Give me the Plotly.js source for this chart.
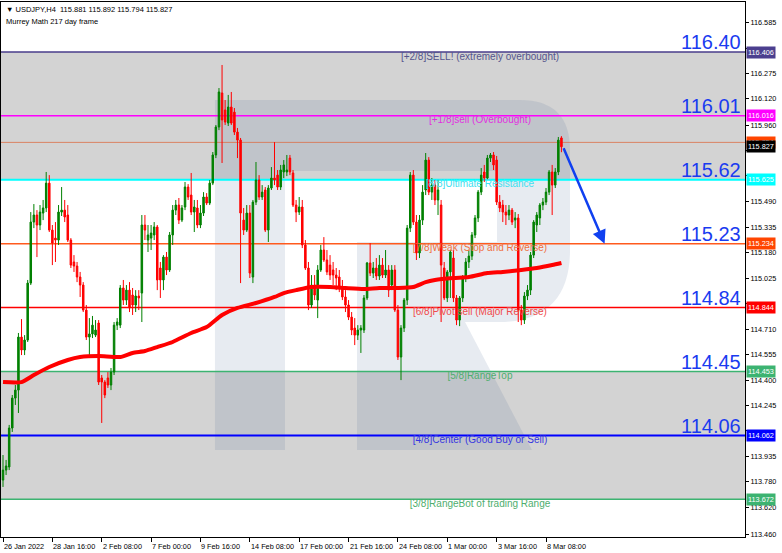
<!DOCTYPE html>
<html><head><meta charset="utf-8">
<script src="https://cdn.plot.ly/plotly-3.0.1.min.js"></script>
<style>html,body{margin:0;padding:0;background:#fff}#chart{width:782px;height:553px}</style>
</head><body><div id="chart"></div>
<script>
// ---- data (USDJPY H4) ----
const openP = [113.790,113.851,113.870,114.108,114.291,114.340,114.664,114.585,114.646,114.994,
115.367,115.410,115.349,115.422,115.453,115.605,115.318,115.269,115.257,115.428,
115.440,115.410,115.257,115.123,115.098,115.031,114.982,114.829,114.664,114.683,
114.676,114.750,114.414,114.389,114.414,114.371,114.450,114.737,114.737,114.964,
114.890,114.951,114.921,114.860,114.915,114.933,115.349,115.257,115.269,115.288,
115.337,115.086,115.013,115.153,115.074,115.288,115.440,115.471,115.379,115.459,
115.581,115.532,115.428,115.453,115.349,115.422,115.520,115.483,115.605,115.777,
115.948,116.156,116.052,115.972,116.070,116.039,115.917,115.868,115.379,115.318,
115.422,115.031,115.489,115.624,115.520,115.563,115.318,115.575,115.636,115.654,
115.581,115.673,115.673,115.758,115.667,115.471,115.428,115.459,115.227,115.086,
114.860,114.982,114.890,115.074,115.196,115.135,115.104,115.074,115.043,115.031,
114.970,114.909,114.860,114.786,114.719,114.676,114.707,114.707,114.903,115.117,
115.055,115.086,115.037,115.104,115.043,115.074,114.982,115.074,114.829,114.542,
114.719,114.890,115.330,115.654,115.367,115.178,115.379,115.563,115.746,115.550,
115.593,115.502,115.471,115.086,114.903,115.062,115.147,114.903,114.768,114.903,
115.025,115.123,115.159,115.288,115.392,115.550,115.673,115.636,115.758,115.777,
115.746,115.489,115.471,115.428,115.410,115.440,115.379,115.392,114.829,114.768,
114.915,114.951,115.165,115.349,115.392,115.471,115.489,115.550,115.673,115.593,
115.673,115.881];
const highP = [113.943,113.913,114.127,114.310,114.371,114.689,114.774,114.676,115.013,115.428,
115.477,115.440,115.471,115.502,115.673,115.654,115.349,115.367,115.471,115.581,
115.502,115.471,115.269,115.165,115.123,115.062,115.000,114.860,114.780,114.793,
114.768,114.768,114.432,114.401,114.450,114.475,114.756,114.780,114.982,115.013,
114.982,115.000,114.964,114.951,114.951,115.410,115.410,115.349,115.349,115.367,
115.349,115.123,115.165,115.184,115.306,115.471,115.502,115.514,115.471,115.612,
115.599,115.667,115.502,115.502,115.471,115.550,115.544,115.624,115.795,115.960,
116.186,116.327,116.113,116.144,116.162,116.064,115.942,115.881,115.453,115.471,
115.471,115.502,115.734,115.654,115.593,115.581,115.593,115.703,115.856,115.685,
115.716,115.746,115.777,115.777,115.685,115.502,115.520,115.502,115.257,115.123,
115.043,115.043,115.104,115.227,115.275,115.196,115.165,115.123,115.086,115.074,
115.013,114.951,114.890,114.817,114.780,114.737,114.737,114.921,115.123,115.239,
115.123,115.147,115.165,115.147,115.196,115.104,115.104,115.104,114.860,114.737,
114.903,115.349,115.673,115.685,115.410,115.410,115.593,115.789,115.764,115.636,
115.624,115.624,115.502,115.123,115.074,115.196,115.196,114.921,114.915,115.043,
115.147,115.196,115.306,115.410,115.563,115.697,115.716,115.777,115.789,115.795,
115.771,115.532,115.502,115.471,115.471,115.453,115.428,115.416,114.860,114.939,
114.982,115.184,115.379,115.428,115.483,115.514,115.575,115.685,115.716,115.697,
115.887,115.892];
const lowP = [113.748,113.821,113.851,114.084,114.249,114.200,114.554,114.554,114.634,114.982,
115.330,115.153,115.318,115.379,115.428,115.306,115.104,115.123,115.227,115.404,
115.367,115.245,115.086,115.062,115.000,114.909,114.817,114.646,114.536,114.658,
114.664,114.371,114.139,114.291,114.353,114.340,114.432,114.707,114.719,114.860,
114.860,114.817,114.799,114.817,114.829,114.756,115.257,115.184,115.196,115.257,
114.951,114.903,114.951,115.043,115.062,115.227,115.410,115.355,115.367,115.440,
115.502,115.410,115.306,115.330,115.330,115.404,115.471,115.471,115.593,115.758,
115.929,115.728,115.960,115.954,115.960,115.899,115.758,114.994,115.288,115.306,
115.025,114.994,115.471,115.502,115.502,115.306,115.245,115.563,115.593,115.563,
115.563,115.636,115.648,115.654,115.459,115.367,115.410,115.208,115.074,114.829,
114.842,114.890,114.780,115.062,115.123,115.043,115.013,114.982,114.951,114.939,
114.890,114.817,114.768,114.676,114.615,114.646,114.567,114.689,114.890,115.037,
115.025,115.013,115.013,115.025,115.025,114.909,114.951,114.817,114.524,114.401,
114.695,114.860,115.306,115.349,115.135,115.147,115.349,115.532,115.532,115.502,
115.471,115.410,114.756,114.890,114.878,114.903,114.878,114.737,114.731,114.878,
115.000,115.086,115.135,115.269,115.367,115.532,115.612,115.624,115.734,115.685,
115.471,115.428,115.367,115.349,115.379,115.349,115.330,114.756,114.737,114.744,
114.890,114.921,115.147,115.306,115.349,115.440,115.471,115.532,115.410,115.575,
115.654,115.794];
const closeP = [113.851,113.876,114.108,114.291,114.340,114.664,114.585,114.646,114.994,115.367,
115.410,115.349,115.428,115.453,115.605,115.318,115.239,115.257,115.428,115.440,
115.398,115.257,115.104,115.098,115.031,114.982,114.829,114.664,114.683,114.737,
114.707,114.389,114.389,114.310,114.371,114.450,114.737,114.756,114.964,114.890,
114.951,114.842,114.860,114.915,114.903,115.349,115.318,115.288,115.300,115.337,
115.013,115.013,115.153,115.074,115.288,115.440,115.471,115.379,115.453,115.581,
115.520,115.428,115.459,115.349,115.422,115.520,115.483,115.605,115.777,115.948,
116.162,115.991,115.978,116.070,115.972,115.917,115.868,115.422,115.318,115.422,
115.055,115.489,115.624,115.520,115.550,115.318,115.575,115.636,115.624,115.581,
115.685,115.716,115.685,115.673,115.471,115.428,115.459,115.227,115.086,114.860,
114.982,114.921,115.074,115.196,115.135,115.062,115.043,115.043,115.025,114.970,
114.909,114.860,114.786,114.707,114.676,114.707,114.719,114.903,115.117,115.055,
115.086,115.037,115.104,115.043,115.074,114.951,115.074,114.829,114.542,114.719,
114.890,115.330,115.654,115.367,115.178,115.379,115.550,115.746,115.550,115.593,
115.502,115.563,115.104,114.903,115.062,115.184,114.903,114.768,114.903,115.025,
115.123,115.159,115.288,115.392,115.550,115.654,115.636,115.758,115.777,115.716,
115.489,115.453,115.428,115.410,115.440,115.367,115.392,114.829,114.768,114.915,
114.951,115.165,115.367,115.410,115.471,115.489,115.550,115.673,115.593,115.673,
115.868,115.827];

// moving average read at sampled bars
const maIdx = [0,6,10,15,21,25,31,38,42,46,50,55,61,66,71,76,82,88,91,95,100,106,111,117,122,128,133,137,140,146,151,157,162,168,173,178,181];
const maVal = [114.389,114.389,114.432,114.481,114.524,114.542,114.548,114.542,114.567,114.579,114.603,114.634,114.689,114.725,114.799,114.842,114.872,114.909,114.933,114.951,114.970,114.970,114.964,114.958,114.964,114.964,114.970,115.000,115.013,115.025,115.031,115.055,115.062,115.074,115.086,115.104,115.117];

// time axis
const tickIdx = [0,16,32,48,64,80,96,112,128,144,160,176];
const tickText = ['26 Jan 2022','28 Jan 16:00','2 Feb 08:00','7 Feb 00:00','9 Feb 16:00','14 Feb 08:00','17 Feb 00:00','21 Feb 16:00','24 Feb 08:00','1 Mar 00:00','3 Mar 16:00','8 Mar 08:00'];

// price axis ticks (labels hidden behind level boxes are left blank)
const yTicks = [116.585,116.430,116.275,116.120,115.960,115.805,115.650,115.490,115.335,115.180,115.025,114.870,114.710,114.555,114.400,114.245,114.090,113.935,113.780,113.620,113.460];
const yTickHidden = [116.430,115.805,115.650,114.870,114.090];

// Murrey Math levels
const levelVals = [116.406,116.016,115.625,115.234,114.844,114.453,114.062,113.672];
const levelNames = ['[+2/8]SELL! (extremely overbought)','[+1/8]sell (Overbought)','[8/8]Ultimate Resistance','[7/8]Weak (Stop and Reverse)','[6/8]Pivot sell (Major Reverse)','[5/8]RangeTop','[4/8]Center (Good Buy or Sell)','[3/8]RangeBot of trading Range'];
const bigLabels = ['116.40','116.01','115.62','115.23','114.84','114.45','114.06'];
const askPrice = 115.854;

// ---- styles ----
const FONT = 'Liberation Sans, Arial, DejaVu Sans, sans-serif';
const lineColors = ['#483d8b','#ff00ff','#00ffff','#ff5a1e','#ff0000','#3cb371','#0000ff','#3cb371'];
const lineWidths = [1.5,1.5,2,1.5,1.5,1.5,2,1.5];
const textColors = ['#55558c','#e030e0','#40e0f0','#f07040','#f04a4a','#4fae6e','#3535e0','#4fae6e'];
const boxColors = ['#4b3f8f','#ff00ff','#00ffff','#ff4500','#ff0000','#3cb371','#0000ff','#3cb371'];

const N = closeP.length;
const last = N - 1;
const xIdx = closeP.map((_, i) => i);
const xRange = [-0.65, 240.5];
const yRange = [113.442, 116.712];
const labelX = 154.6;

// helpers for paper-positioned decoration (plot area 1..745 x 2..537 px)
const PX = p => (p - 1) / 744;
const PY = p => (537 - p) / 535;
function pathFrom(cmds) {
  return cmds.map(c => c[0] + c.slice(1).reduce((a, v, k, arr) => {
    if (k % 2 === 0) return a + (k ? ' ' : '') + PX(v).toFixed(4) + ',' + PY(arr[k + 1]).toFixed(4);
    return a;
  }, '')).join(' ') + ' Z';
}
const logoPath = pathFrom([
  ['M',215,100],['L',520,100],['Q',570,100,570,150],['L',570,250],['Q',570,318,505,322],
  ['L',465,322],['L',532,450],['L',357,450],['L',357,242],['L',497,242],['L',497,171],
  ['L',285,171],['L',285,450],['L',215,450]
]);

const traces = [];
// level text labels (behind candles)
levelVals.forEach((v, k) => {
  traces.push({type:'scatter', mode:'text', x:[labelX], y:[v], text:[levelNames[k]],
    textposition:'bottom center', textfont:{family:FONT, size:10, color:textColors[k]},
    hoverinfo:'skip', showlegend:false, cliponaxis:false});
});
traces.push({
  type:'candlestick', x:xIdx, open:openP, high:highP, low:lowP, close:closeP,
  increasing:{line:{color:'#008000', width:1}, fillcolor:'#008000'},
  decreasing:{line:{color:'#ff0000', width:1}, fillcolor:'#ff0000'},
  hoverinfo:'skip', showlegend:false
});
traces.push({type:'scatter', mode:'lines', x:maIdx, y:maVal,
  line:{color:'#ff0000', width:4, shape:'spline', smoothing:0.6}, hoverinfo:'skip', showlegend:false});

const shapes = [
  {type:'rect', xref:'paper', yref:'y', x0:0, x1:1, y0:levelVals[0], y1:levelVals[2], fillcolor:'#d3d3d3', line:{width:0}, layer:'below'},
  {type:'rect', xref:'paper', yref:'y', x0:0, x1:1, y0:levelVals[5], y1:levelVals[7], fillcolor:'#d3d3d3', line:{width:0}, layer:'below'},
  {type:'path', xref:'paper', yref:'paper', path:logoPath, fillcolor:'rgba(70,100,150,0.13)', line:{width:0}, layer:'below'},
  {type:'line', xref:'paper', yref:'y', x0:0, x1:1, y0:askPrice, y1:askPrice, line:{color:'rgba(220,110,70,0.8)', width:1}, layer:'below'}
];
levelVals.forEach((v, k) => {
  shapes.push({type:'line', xref:'paper', yref:'y', x0:0, x1:1, y0:v, y1:v,
    line:{color:lineColors[k], width:lineWidths[k]}, layer:'below'});
});

const annotations = [];
// header
annotations.push({xref:'paper', yref:'paper', x:PX(4), y:PY(3), xanchor:'left', yanchor:'top', showarrow:false,
  text:'\u25BC USDJPY,H4  ' + [openP[last],highP[last],lowP[last],closeP[last]].map(v=>v.toFixed(3)).join(' '),
  font:{family:FONT, size:7.5, color:'#000'}});
annotations.push({xref:'paper', yref:'paper', x:PX(4), y:PY(15), xanchor:'left', yanchor:'top', showarrow:false,
  text:'Murrey Math 217 day frame', font:{family:FONT, size:7.5, color:'#000'}});
// x tick labels (left-aligned at tick)
tickIdx.forEach((t, k) => {
  annotations.push({xref:'x', yref:'paper', x:t, y:0, xanchor:'left', yanchor:'top', yshift:-3, xshift:-1,
    showarrow:false, text:tickText[k], font:{family:FONT, size:7.3, color:'#000'}});
});
// big level values
bigLabels.forEach((t, k) => {
  annotations.push({xref:'paper', yref:'y', x:1, y:levelVals[k], xanchor:'right', yanchor:'bottom', xshift:-2, yshift:-3,
    showarrow:false, text:t, font:{family:FONT, size:20, color:'#1a3bf0'}});
});
// right side value boxes
const boxAnn = (v, bg) => ({xref:'paper', yref:'y', x:1, y:v, xanchor:'left', yanchor:'middle', xshift:1,
  showarrow:false, text:v.toFixed(3), bgcolor:bg, borderpad:1, font:{family:FONT, size:7.3, color:'#ffffff'}});
levelVals.forEach((v, k) => annotations.push(boxAnn(v, boxColors[k])));
annotations.push(boxAnn(askPrice, '#ff4500'));
annotations.push(boxAnn(closeP[last], '#000000'));
// forecast arrow
annotations.push({xref:'x', yref:'y', axref:'x', ayref:'y', x:last + 14, y:levelVals[3], ax:last + 0.5, ay:closeP[last],
  text:'', showarrow:true, arrowhead:2, arrowsize:1.1, arrowwidth:2.5, arrowcolor:'#1040f0', standoff:0, startstandoff:0});

const layout = {
  width:782, height:553,
  margin:{l:1, r:37, t:2, b:16, pad:0},
  paper_bgcolor:'#ffffff', plot_bgcolor:'#ffffff',
  showlegend:false, hovermode:false,
  xaxis:{type:'linear', range:xRange, rangeslider:{visible:false}, tickvals:tickIdx, ticks:'outside', ticklen:4,
    tickcolor:'#000', showticklabels:false, showgrid:false, zeroline:false, showline:true, mirror:true,
    linecolor:'#000', linewidth:1, fixedrange:true},
  yaxis:{side:'right', range:yRange, tickvals:yTicks,
    ticktext:yTicks.map(v => yTickHidden.includes(v) ? '' : v.toFixed(3)), ticks:'outside', ticklen:3,
    tickcolor:'#000', tickfont:{family:FONT, size:7.3, color:'#000'}, showgrid:false, zeroline:false,
    showline:true, mirror:true, linecolor:'#000', linewidth:1, fixedrange:true},
  shapes:shapes, annotations:annotations
};
Plotly.newPlot('chart', traces, layout, {staticPlot:true, displayModeBar:false});
</script></body></html>
